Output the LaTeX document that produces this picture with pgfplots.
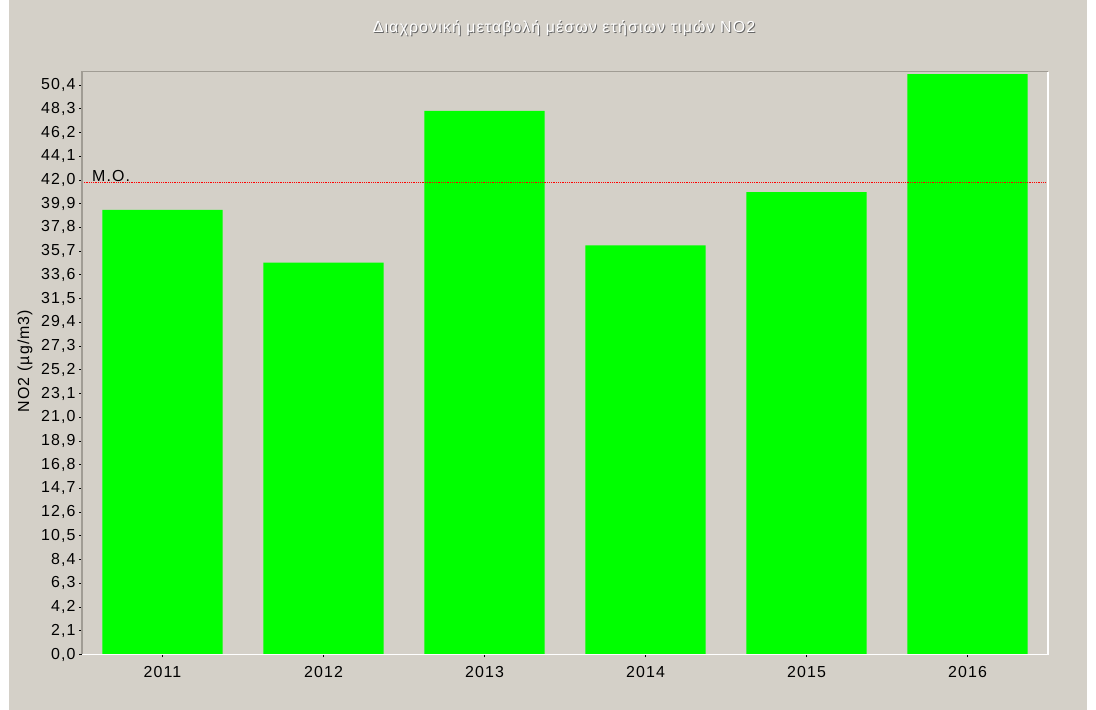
\documentclass[border=0pt]{standalone}
\usepackage{fontspec}
\setmainfont{Liberation Sans}[LetterSpace=7]
\usepackage{pgfplots}
\pgfplotsset{compat=1.18}
\definecolor{panel}{HTML}{D4D0C8}
\definecolor{barg}{HTML}{00FF00}
\definecolor{frameg}{HTML}{A09C94}
\newcommand{\lbl}{\fontsize{16}{18}\selectfont}

\begin{document}
\begin{tikzpicture}[x=1bp,y=1bp]
  \fill[white] (0,0) rectangle (1096,710);
  \fill[panel] (9,0) rectangle (1087,710);
  \useasboundingbox (0,0) rectangle (1096,710);
  % title with shadow
  \node[font=\lbl, text=black!60] at (565,681) {Διαχρονική μεταβολή μέσων ετήσιων τιμών NO2};
  \node[font=\lbl, text=white] at (564,682) {Διαχρονική μεταβολή μέσων ετήσιων τιμών NO2};
  % y label
  \node[font=\lbl, rotate=90] at (25,349) {NO2 (µg/m3)};
  \begin{axis}[
      at={(82bp,55.5bp)}, anchor=south west,
      width=966bp, height=582.8bp, scale only axis,
      xmin=-0.5, xmax=5.5,
      ymin=0, ymax=51.58,
      axis line style={draw=none},
      xtick={0,1,2,3,4,5},
      xticklabels={2011,2012,2013,2014,2015,2016},
      ytick={0,2.1,4.2,6.3,8.4,10.5,12.6,14.7,16.8,18.9,21,23.1,25.2,27.3,29.4,31.5,33.6,35.7,37.8,39.9,42,44.1,46.2,48.3,50.4},
      xtick pos=bottom, ytick pos=left,
      tick align=outside,
      major tick length=3bp,
      tick style={black, line width=0.8bp},
      tick label style={font=\lbl},
      yticklabel style={/pgf/number format/.cd, fixed, fixed zerofill, precision=1, use comma, assume math mode=true},
      xticklabel style={yshift=-5bp},
      clip=false,
    ]
    \addplot[ybar, bar width=0.746, fill=barg, draw=none]
      coordinates {(0,39.34) (1,34.67) (2,48.12) (3,36.20) (4,40.93) (5,51.37)};
    % mean line (M.O.)
    \addplot[red, densely dotted, line width=0.8bp]
      coordinates {(-0.5,41.77) (5.5,41.77)};
    \node[font=\lbl, anchor=south west, inner sep=1bp] at (axis cs:-0.5,41.77) [xshift=9bp] {M.O.};
    % frame
    \draw[frameg, line width=1.2bp] (rel axis cs:0,0) -- (rel axis cs:0,1) -- (rel axis cs:1,1);
    \draw[white, line width=1.5bp] (rel axis cs:0,0) -- (rel axis cs:1,0) -- (rel axis cs:1,1);
  \end{axis}
\end{tikzpicture}
\end{document}
